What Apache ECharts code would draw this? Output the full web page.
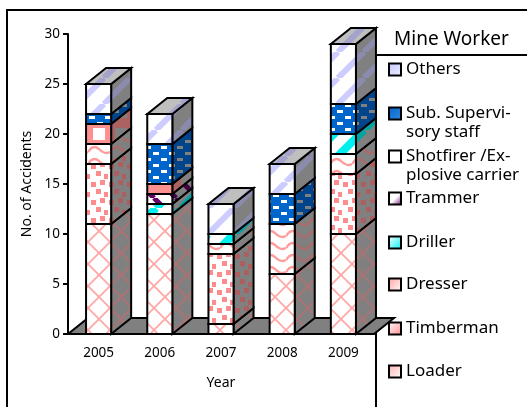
<!DOCTYPE html>
<html>
<head>
<meta charset="utf-8">
<style>html,body{margin:0;padding:0;background:#fff}#main{width:527px;height:407px}</style>
<script src="https://cdn.jsdelivr.net/npm/echarts@6/dist/echarts.min.js"></script>
</head>
<body>
<div id="main"></div>
<script>
const years = ['2005', '2006', '2007', '2008', '2009'];
const loader = [11, 12, 1, 6, 10];
const timberman = [6, 0, 7, 0, 6];
const dresser = [2, 0, 1, 5, 2];
const driller = [0, 1, 1, 0, 2];
const trammer = [0, 1, 0, 0, 0];
const shotfirer = [2, 1, 0, 0, 0];
const subStaff = [1, 4, 0, 3, 3];
const others = [3, 3, 3, 3, 6];

// 从下往上堆叠的顺序
const stack = [
  { name: 'Loader', values: loader, kind: 'cross', legendY: 370, swatch: ['#ffb0b0', '#ffffff'] },
  { name: 'Timberman', values: timberman, kind: 'dots', legendY: 327, swatch: ['#ffffff', '#ff8c8c'] },
  { name: 'Dresser', values: dresser, kind: 'wave', legendY: 283, swatch: ['#ffa0a0', '#ffffff'] },
  { name: 'Driller', values: driller, kind: 'cyan', legendY: 241, swatch: ['#ffffff', '#00f0f0'] },
  { name: 'Trammer', values: trammer, kind: 'purple', legendY: 197, swatch: ['#ffffff', '#ffffff', '#660066'] },
  { name: 'Shotfirer /Ex-\nplosive carrier', values: shotfirer, kind: 'blocks', legendY: 155, swatch: ['#ffffff', '#ffffff'] },
  { name: 'Sub. Supervi-\nsory staff', values: subStaff, kind: 'dashes', legendY: 112, swatch: ['#0066cc', '#3388dd'] },
  { name: 'Others', values: others, kind: 'lavender', legendY: 68, swatch: ['#c4c4ff', '#f0f0ff'] }
];

const DX = 20, DY = 16;
const FONT = 'Noto Sans';

function scale(hex, f) {
  const n = parseInt(hex.slice(1), 16);
  const c = [n >> 16, (n >> 8) & 255, n & 255].map(v => Math.round(v * f));
  return 'rgb(' + c.join(',') + ')';
}

function diagonal(ctx, s, w, up) {
  ctx.lineWidth = w;
  ctx.beginPath();
  [-s, 0, s].forEach(o => {
    ctx.moveTo(o, up ? s : 0);
    ctx.lineTo(o + s, up ? 0 : s);
  });
  ctx.stroke();
}

const tiles = {
  cross: { w: 22, h: 22, fg: '#ffa8a8', draw(ctx) { diagonal(ctx, 22, 1.8, true); diagonal(ctx, 22, 1.8, false); } },
  dots: { w: 18, h: 18, fg: '#ff8c8c', draw(ctx) {
    [[1, 2], [10, 0], [6, 9], [14, 12]].forEach(p => ctx.fillRect(p[0], p[1], 5, 5));
  } },
  wave: { w: 22, h: 12, fg: '#ff9c9c', draw(ctx) {
    ctx.lineWidth = 2.4;
    ctx.beginPath();
    ctx.moveTo(0, 8);
    ctx.quadraticCurveTo(5, 0, 11, 5);
    ctx.quadraticCurveTo(17, 11, 22, 8);
    ctx.stroke();
  } },
  blocks: { w: 22, h: 22, fg: '#ff9090', draw(ctx, fg, bg) {
    ctx.fillRect(0, 0, 22, 22);
    ctx.fillStyle = bg;
    ctx.fillRect(5, 0, 12, 8);
    ctx.fillRect(5, 18, 12, 4);
  } },
  purple: { w: 22, h: 22, fg: '#660066', draw(ctx) { diagonal(ctx, 22, 5, false); } },
  cyan: { w: 26, h: 26, fg: '#00f0f0', draw(ctx) { diagonal(ctx, 26, 8, true); } },
  dashes: { w: 16, h: 12, fg: '#0066cc', draw(ctx, fg, bg) {
    ctx.fillStyle = fg;
    ctx.fillRect(0, 0, 16, 12);
    ctx.fillStyle = bg;
    [[1, 2], [9, 8]].forEach(p => ctx.fillRect(p[0], p[1], 6, 3));
  } },
  lavender: { w: 26, h: 26, fg: '#ccccff', draw(ctx) { diagonal(ctx, 26, 6, true); } }
};

function makePattern(kind, bgF, fgF) {
  const t = tiles[kind];
  const canvas = document.createElement('canvas');
  canvas.width = t.w;
  canvas.height = t.h;
  const ctx = canvas.getContext('2d');
  const bg = scale('#ffffff', bgF), fg = scale(t.fg, fgF);
  ctx.fillStyle = bg;
  ctx.fillRect(0, 0, t.w, t.h);
  ctx.fillStyle = fg;
  ctx.strokeStyle = fg;
  t.draw(ctx, fg, bg);
  return { image: canvas, repeat: 'repeat' };
}

const fills = {};
Object.keys(tiles).forEach(k => {
  fills[k] = {
    front: makePattern(k, 1, 1),
    side: makePattern(k, 0.5, 0.68),
    top: makePattern(k, 0.75, 0.8)
  };
});

function baseOf(s, i) {
  let sum = 0;
  for (let k = 0; k < s; k++) sum += stack[k].values[i];
  return sum;
}

const lineStyle = { stroke: '#000', lineWidth: 2, lineJoin: 'miter' };

function renderSegment(kind, isTop) {
  return function (params, api) {
    const lo = api.value(1), hi = api.value(2);
    if (hi <= lo) return null;
    const a = api.coord([api.value(0), lo]);
    const b = api.coord([api.value(0), hi]);
    const w = api.size([1, 0])[0] * 0.41;
    const x0 = a[0] - w / 2, x1 = a[0] + w / 2;
    const children = [
      {
        type: 'polygon',
        shape: { points: [[x1, b[1]], [x1 + DX, b[1] - DY], [x1 + DX, a[1] - DY], [x1, a[1]]] },
        style: Object.assign({ fill: fills[kind].side }, lineStyle)
      },
      {
        type: 'rect',
        shape: { x: x0, y: b[1], width: w, height: a[1] - b[1] },
        style: Object.assign({ fill: fills[kind].front }, lineStyle)
      }
    ];
    if (isTop) {
      children.push({
        type: 'polygon',
        shape: { points: [[x0, b[1]], [x0 + DX, b[1] - DY], [x1 + DX, b[1] - DY], [x1, b[1]]] },
        style: Object.assign({ fill: fills[kind].top }, lineStyle)
      });
    }
    return { type: 'group', children: children };
  };
}

function renderFloor(params) {
  const c = params.coordSys;
  const y = c.y + c.height;
  return {
    type: 'polygon',
    shape: { points: [[c.x, y], [c.x + DX, y - DY], [c.x + c.width + DX, y - DY], [c.x + c.width, y]] },
    style: { fill: '#808080', stroke: '#000', lineWidth: 2 }
  };
}

const series = [{
  name: 'floor',
  type: 'custom',
  renderItem: renderFloor,
  data: [[0, 0, 0]],
  silent: true,
  z: 1
}].concat(stack.map((s, si) => ({
  name: s.name,
  type: 'custom',
  renderItem: renderSegment(s.kind, si === stack.length - 1),
  encode: { x: 0, y: [1, 2] },
  data: years.map((y, i) => [i, baseOf(si, i), baseOf(si, i) + s.values[i]]),
  z: 3
})));

function swatchFill(colors) {
  return {
    type: 'linear', x: 0, y: 0, x2: 1, y2: 1,
    colorStops: colors.map((c, i) => ({ offset: i / (colors.length - 1), color: c }))
  };
}

// 每个图例单独定位，原图的间距不均匀；两行的名字前面加一个空行，让第一行对齐色块
const legends = stack.map(s => {
  const twoLine = s.name.indexOf('\n') >= 0;
  return {
    orient: 'vertical',
    left: 388,
    top: s.legendY - (twoLine ? 27 : 8),
    padding: 0,
    itemWidth: 12,
    itemHeight: 12,
    itemGap: 0,
    icon: 'rect',
    selectedMode: false,
    formatter: twoLine ? (name => '\n' + name) : '{name}',
    data: [{
      name: s.name,
      itemStyle: { color: swatchFill(s.swatch), borderColor: '#000', borderWidth: 2 }
    }],
    textStyle: { fontFamily: FONT, fontSize: 17, color: '#000', lineHeight: 19 }
  };
});

const myChart = echarts.init(document.getElementById('main'));
myChart.setOption({
  animation: false,
  backgroundColor: '#fff',
  grid: { left: 68, top: 34, width: 306, height: 300 },
  title: {
    text: 'Mine Worker',
    left: 394,
    top: 30,
    padding: 0,
    textStyle: { fontFamily: FONT, fontSize: 19, fontWeight: 'normal', color: '#000' }
  },
  legend: legends,
  xAxis: {
    type: 'category',
    data: years,
    name: 'Year',
    nameLocation: 'middle',
    nameGap: 42,
    nameTextStyle: { fontFamily: FONT, fontSize: 14, color: '#000' },
    axisLine: { lineStyle: { color: '#000', width: 2 } },
    axisTick: { length: 5, lineStyle: { color: '#000', width: 2 } },
    axisLabel: { fontFamily: FONT, fontSize: 13.5, color: '#000', margin: 12 }
  },
  yAxis: {
    type: 'value',
    min: 0,
    max: 30,
    interval: 5,
    name: 'No. of Accidents',
    nameLocation: 'middle',
    nameGap: 32,
    nameTextStyle: { fontFamily: FONT, fontSize: 14, color: '#000' },
    axisLine: { show: true, lineStyle: { color: '#000', width: 2 } },
    axisTick: { show: true, length: 5, lineStyle: { color: '#000', width: 2 } },
    axisLabel: { fontFamily: FONT, fontSize: 13.5, color: '#000', margin: 8 },
    splitLine: { show: false }
  },
  graphic: [
    { type: 'polyline', silent: true, z: 0, shape: { points: [[7, 407], [7, 10], [527, 10]] }, style: { fill: null, stroke: '#000', lineWidth: 2 } },
    { type: 'polyline', silent: true, z: 0, shape: { points: [[376, 407], [376, 55], [527, 55]] }, style: { fill: null, stroke: '#000', lineWidth: 2 } }
  ],
  series: series
});
</script>
</body>
</html>
